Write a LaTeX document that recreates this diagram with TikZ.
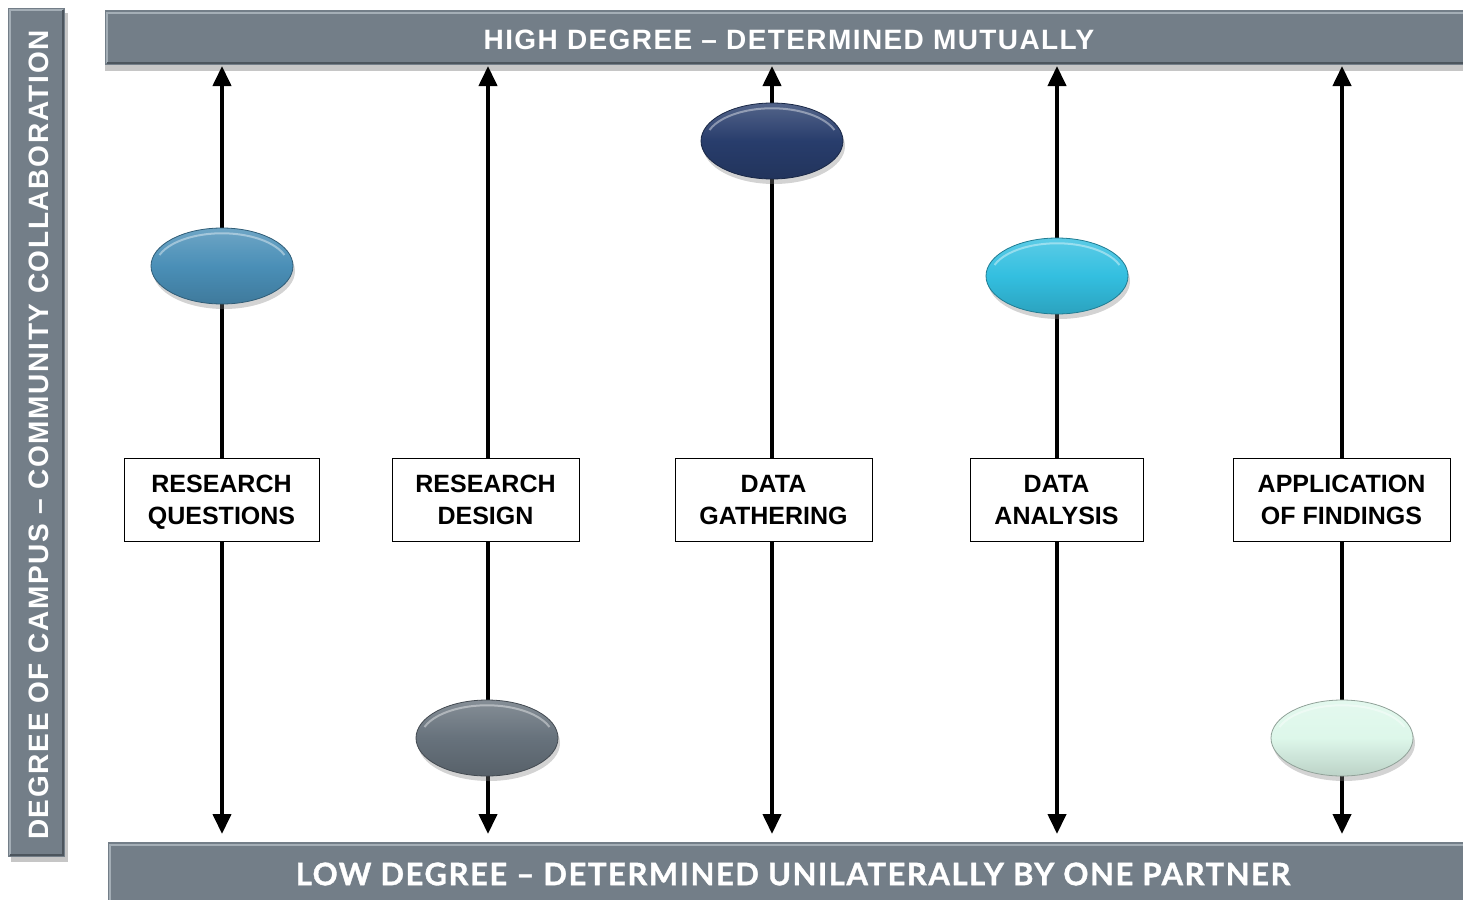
\documentclass[tikz,border=0pt]{standalone}
\usepackage{fontspec}
\setmainfont{Liberation Sans}
\newfontfamily\topfont{Liberation Sans}[LetterSpace=5]
\newfontfamily\leftfont{Liberation Sans}[LetterSpace=6]
\newfontfamily\latofont{Lato}[LetterSpace=5, BoldFeatures={FakeBold=1.2}]
\usetikzlibrary{arrows.meta,shadows,shapes.geometric}
\definecolor{barcol}{HTML}{737E88}
\definecolor{barlight}{HTML}{A4AEB6}
\definecolor{bardark}{HTML}{4C555D}
\definecolor{rqcol}{HTML}{4A8FB7}
\definecolor{rdcol}{HTML}{67727C}
\definecolor{dgcol}{HTML}{283D6C}
\definecolor{dacol}{HTML}{33BFE0}
\definecolor{afcol}{HTML}{DDF7EA}
\tikzset{
  bartext/.style={text=white},
  stagebox/.style={draw=black, line width=1pt, fill=white, align=center, font=\bfseries\fontsize{25}{32}\selectfont, inner sep=0pt, text depth=0pt},
  dot/.style={ellipse, minimum width=142pt, minimum height=76pt, inner sep=0pt, draw=#1!65!black, line width=0.8pt, top color=#1!80!white, bottom color=#1!85!black, middle color=#1, drop shadow={shadow xshift=2pt,shadow yshift=-5pt,opacity=0.35},
    path picture={\draw[white, opacity=0.4, line width=2pt] ([shift={(-62.5,-11)}]path picture bounding box.center) arc[start angle=200, end angle=340, x radius=66.5, y radius=33];}},
  axisarrow/.style={line width=4pt, -{Triangle[width=18pt,length=20pt]}},
}
\begin{document}
\begin{tikzpicture}[x=1pt,y=-1pt]
\useasboundingbox (0,0) rectangle (1463,899);
% left bar
\fill[barcol, drop shadow={shadow xshift=3pt,shadow yshift=-5pt,opacity=0.45}] (8,8) rectangle (65,857);
\draw[barlight, line width=2pt] (10,855) -- (10,10) -- (63,10);
\draw[bardark, line width=2pt] (63,10) -- (63,855) -- (10,855);
\node[bartext, rotate=90, font=\leftfont\bfseries\fontsize{28}{30}\selectfont] (lefttxt) at (39,435) {DEGREE OF CAMPUS – COMMUNITY COLLABORATION};
% top bar
\fill[barcol, drop shadow={shadow xshift=0pt,shadow yshift=-6pt,opacity=0.45}] (105,10) rectangle (1470,65);
\draw[barlight, line width=2pt] (107,63) -- (107,13) -- (1470,13);
\draw[bardark, line width=2pt] (107,63) -- (1470,63);
\node[bartext, font=\topfont\bfseries\fontsize{28}{30}\selectfont] (toptxt) at (789,40) {HIGH DEGREE – DETERMINED MUTUALLY};
% bottom bar
\fill[barcol] (108,842) rectangle (1470,905);
\draw[barlight, line width=2pt] (110,905) -- (110,845) -- (1470,845);
\node[bartext, font=\latofont\bfseries\fontsize{31}{32}\selectfont] (bottxt) at (793,874) {LOW DEGREE – DETERMINED UNILATERALLY BY ONE PARTNER};
% arrow ends
\coordinate (toprq) at (222,66);  \coordinate (botrq) at (222,834);
\coordinate (toprd) at (488,66);  \coordinate (botrd) at (488,834);
\coordinate (topdg) at (772,66);  \coordinate (botdg) at (772,834);
\coordinate (topda) at (1057,66); \coordinate (botda) at (1057,834);
\coordinate (topaf) at (1342,66); \coordinate (botaf) at (1342,834);
% boxes
\node[stagebox, minimum width=195pt, minimum height=83pt] (rq) at (221.5,499.5) {RESEARCH\\QUESTIONS};
\node[stagebox, minimum width=187pt, minimum height=83pt] (rd) at (485.5,499.5) {RESEARCH\\DESIGN};
\node[stagebox, minimum width=197pt, minimum height=83pt] (dg) at (773.5,499.5) {DATA\\GATHERING};
\node[stagebox, minimum width=173pt, minimum height=83pt] (da) at (1056.5,499.5) {DATA\\ANALYSIS};
\node[stagebox, minimum width=217pt, minimum height=83pt] (af) at (1341.5,499.5) {APPLICATION\\OF FINDINGS};
% arrows
\draw[axisarrow] (rq.north -| toprq) -- (toprq);
\draw[axisarrow] (rq.south -| botrq) -- (botrq);
\draw[axisarrow] (rd.north -| toprd) -- (toprd);
\draw[axisarrow] (rd.south -| botrd) -- (botrd);
\draw[axisarrow] (dg.north -| topdg) -- (topdg);
\draw[axisarrow] (dg.south -| botdg) -- (botdg);
\draw[axisarrow] (da.north -| topda) -- (topda);
\draw[axisarrow] (da.south -| botda) -- (botda);
\draw[axisarrow] (af.north -| topaf) -- (topaf);
\draw[axisarrow] (af.south -| botaf) -- (botaf);
% ellipses
\node[dot=rqcol] (erq) at (222,266) {};
\node[dot=dgcol] (edg) at (772,141) {};
\node[dot=dacol] (eda) at (1057,276) {};
\node[dot=rdcol] (erd) at (487,738) {};
\node[dot=afcol] (eaf) at (1342,738) {};
\end{tikzpicture}
\end{document}
